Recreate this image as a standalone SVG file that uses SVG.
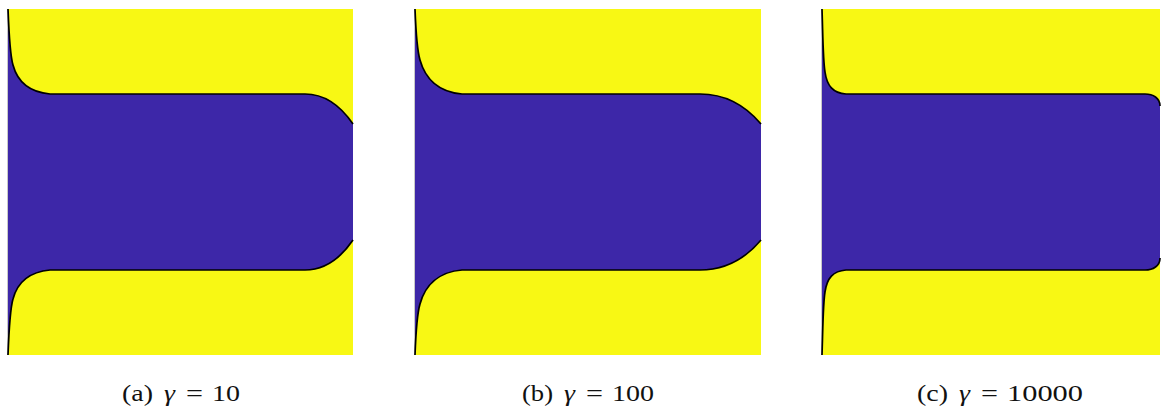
<svg xmlns="http://www.w3.org/2000/svg" width="1162" height="409" viewBox="0 0 1162 409">
<style>
.bg{fill:#F8F814;stroke:none}
.phase{fill:#3D27A8;stroke:none}
.iface{fill:none;stroke:#000;stroke-width:1.7;stroke-linejoin:round}
.edge{stroke:#c8c8c8;stroke-width:1}
.cap{font-family:"Liberation Serif","DejaVu Serif",serif;font-size:23px;fill:#111}
.g{font-style:italic}
</style>
<rect width="1162" height="409" fill="#fff"/>
<g id="panel-a">
<rect class="bg" x="8" y="9" width="345" height="346"/>
<path class="phase" d="M8,9 C9,35 10,55 13,65 C17,80 28,92 50,94 L305,94 C325,94 340,105 353,124 L353,240 C340,259 325,270 305,270 L50,270 C28,272 17,284 13,299 C10,309 9,329 8,355 Z"/>
<line class="edge" x1="7.5" y1="9" x2="7.5" y2="355"/>
<path class="iface" d="M8,9 C9,35 10,55 13,65 C17,80 28,92 50,94 L305,94 C325,94 340,105 353,124"/>
<path class="iface" d="M353,240 C340,259 325,270 305,270 L50,270 C28,272 17,284 13,299 C10,309 9,329 8,355"/>
</g>
<g id="panel-b">
<rect class="bg" x="415" y="9" width="346" height="346"/>
<path class="phase" d="M415,9 C416,35 417,50 420,60 C425,78 438,92 462,94 L700,94 C725,94 745,105 761,124 L761,240 C745,259 725,270 700,270 L462,270 C438,272 425,286 420,304 C417,314 416,329 415,355 Z"/>
<line class="edge" x1="414.5" y1="9" x2="414.5" y2="355"/>
<path class="iface" d="M415,9 C416,35 417,50 420,60 C425,78 438,92 462,94 L700,94 C725,94 745,105 761,124"/>
<path class="iface" d="M761,240 C745,259 725,270 700,270 L462,270 C438,272 425,286 420,304 C417,314 416,329 415,355"/>
</g>
<g id="panel-c">
<rect class="bg" x="822" y="9" width="338" height="346"/>
<path class="phase" d="M822,9 C823,40 823,60 825,72 C827,86 833,93 846,94 L1145,94 C1153,94 1160,98 1160,106 L1160,258 C1160,266 1153,270 1145,270 L846,270 C833,271 827,278 825,292 C823,304 823,324 822,355 Z"/>
<line class="edge" x1="821.5" y1="9" x2="821.5" y2="355"/>
<path class="iface" d="M822,9 C823,40 823,60 825,72 C827,86 833,93 846,94 L1145,94 C1153,94 1160,98 1160,106"/>
<path class="iface" d="M1160,258 C1160,266 1153,270 1145,270 L846,270 C833,271 827,278 825,292 C823,304 823,324 822,355"/>
</g>
<g id="captions">
<text class="cap" x="122" y="401" textLength="31" lengthAdjust="spacingAndGlyphs">(a)</text>
<text class="cap g" x="164" y="401" textLength="11" lengthAdjust="spacingAndGlyphs">γ</text>
<text class="cap" x="186" y="401" textLength="17" lengthAdjust="spacingAndGlyphs">=</text>
<text class="cap" x="212" y="401" textLength="28" lengthAdjust="spacingAndGlyphs">10</text>
<text class="cap" x="522" y="401" textLength="31" lengthAdjust="spacingAndGlyphs">(b)</text>
<text class="cap g" x="564" y="401" textLength="11" lengthAdjust="spacingAndGlyphs">γ</text>
<text class="cap" x="586" y="401" textLength="17" lengthAdjust="spacingAndGlyphs">=</text>
<text class="cap" x="612" y="401" textLength="42" lengthAdjust="spacingAndGlyphs">100</text>
<text class="cap" x="917" y="401" textLength="31" lengthAdjust="spacingAndGlyphs">(c)</text>
<text class="cap g" x="959" y="401" textLength="11" lengthAdjust="spacingAndGlyphs">γ</text>
<text class="cap" x="981" y="401" textLength="17" lengthAdjust="spacingAndGlyphs">=</text>
<text class="cap" x="1007" y="401" textLength="76" lengthAdjust="spacingAndGlyphs">10000</text>
</g>
</svg>
